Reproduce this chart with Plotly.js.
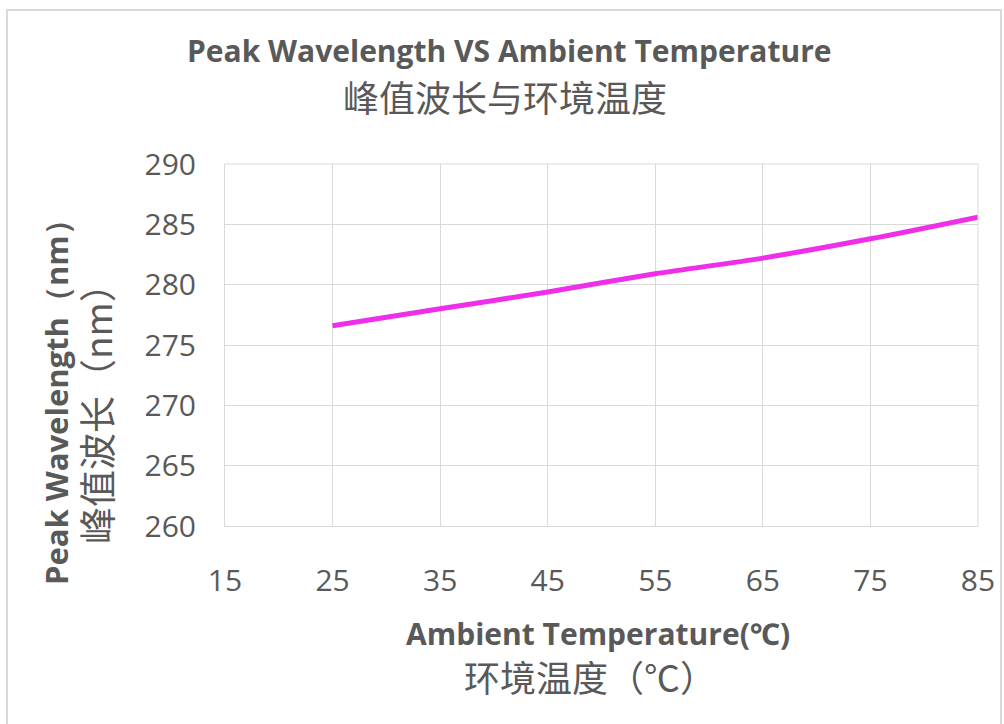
<!DOCTYPE html>
<html>
<head>
<meta charset="utf-8">
<script src="https://cdn.plot.ly/plotly-3.0.1.min.js"></script>
<style>html,body{margin:0;padding:0;background:#fff;}#chart{width:1004px;height:724px;}</style>
</head>
<body>
<div id="chart"></div>
<script>
const temperatures = [25, 35, 45, 55, 65, 75, 85];
const peakWavelength = [276.6, 278.0, 279.4, 280.9, 282.2, 283.8, 285.6];
const xTicks = [15, 25, 35, 45, 55, 65, 75, 85];
const yTicks = [260, 265, 270, 275, 280, 285, 290];

const titleEn = 'Peak Wavelength VS Ambient Temperature';
const titleZh = '峰值波长与环境温度';
const xTitleEn = 'Ambient Temperature(℃)';
const xTitleZh = '环境温度（℃）';
const yTitleEn = 'Peak Wavelength（nm）';
const yTitleZh = '峰值波长（nm）';

const grey = '#595959';
const fontEn = '"Open Sans", "Noto Sans", sans-serif';
const fontZh = '"Noto Sans CJK SC", sans-serif';
const fontTick = '"Liberation Sans Narrow", "Open Sans", sans-serif';

const trace = {
  x: temperatures,
  y: peakWavelength,
  type: 'scatter',
  mode: 'lines',
  line: {color: '#ee2ee8', width: 5, shape: 'spline', smoothing: 0.8},
  hoverinfo: 'x+y'
};

const W = 753, H = 362;
const layout = {
  width: 1004, height: 724,
  margin: {l: 225, r: 26, t: 164, b: 198},
  paper_bgcolor: '#ffffff',
  plot_bgcolor: '#ffffff',
  showlegend: false,
  xaxis: {
    range: [15, 85],
    tickvals: xTicks,
    ticktext: xTicks.map(String),
    showgrid: true, gridcolor: '#d9d9d9', gridwidth: 1,
    zeroline: false,
    showline: true, linecolor: '#d9d9d9', linewidth: 1,
    ticks: 'outside', ticklen: 28, tickcolor: 'rgba(0,0,0,0)',
    tickfont: {family: fontTick, size: 30, color: grey},
    fixedrange: true
  },
  yaxis: {
    range: [260, 290],
    tickvals: yTicks,
    ticktext: yTicks.map(String),
    showgrid: true, gridcolor: '#d9d9d9', gridwidth: 1,
    zeroline: false,
    showline: true, linecolor: '#d9d9d9', linewidth: 1,
    ticks: 'outside', ticklen: 22, tickcolor: 'rgba(0,0,0,0)',
    tickfont: {family: fontTick, size: 30, color: grey},
    fixedrange: true
  },
  shapes: [
    {type: 'line', xref: 'paper', yref: 'paper', x0: 1, x1: 1, y0: 0, y1: 1, line: {color: '#d9d9d9', width: 1}},
    {type: 'line', xref: 'paper', yref: 'paper', x0: 0, x1: 1, y0: 1, y1: 1, line: {color: '#d9d9d9', width: 1}},
    {type: 'rect', xref: 'paper', yref: 'paper',
     x0: (7 - 225) / W, x1: (1001 - 225) / W,
     y0: (526 - 740) / H, y1: (526 - 10) / H,
     line: {color: '#d9d9d9', width: 2}, fillcolor: 'rgba(0,0,0,0)'}
  ],
  annotations: [
    {text: '<b>' + titleEn + '</b>', xref: 'paper', yref: 'paper',
     x: (509 - 225) / W, y: (526 - 50) / H, xanchor: 'center', yanchor: 'middle', showarrow: false,
     font: {family: fontEn, size: 30, color: grey}},
    {text: titleZh, xref: 'paper', yref: 'paper',
     x: (505 - 225) / W, y: (526 - 96) / H, xanchor: 'center', yanchor: 'middle', showarrow: false,
     font: {family: fontZh, size: 36, color: grey}},
    {text: '<b>' + xTitleEn + '</b>', xref: 'paper', yref: 'paper',
     x: (598 - 225) / W, y: (526 - 633) / H, xanchor: 'center', yanchor: 'middle', showarrow: false,
     font: {family: fontEn, size: 30, color: grey}},
    {text: xTitleZh, xref: 'paper', yref: 'paper',
     x: (590 - 225) / W, y: (526 - 676) / H, xanchor: 'center', yanchor: 'middle', showarrow: false,
     font: {family: fontZh, size: 36, color: grey}},
    {text: '<b>' + yTitleEn + '</b>', xref: 'paper', yref: 'paper', textangle: -90,
     x: (56 - 225) / W, y: (526 - 395) / H, xanchor: 'center', yanchor: 'middle', showarrow: false,
     font: {family: fontEn, size: 31, color: grey}},
    {text: yTitleZh, xref: 'paper', yref: 'paper', textangle: -90,
     x: (96 - 225) / W, y: (526 - 405) / H, xanchor: 'center', yanchor: 'middle', showarrow: false,
     font: {family: fontZh, size: 37, color: grey}}
  ]
};

Plotly.newPlot('chart', [trace], layout, {displayModeBar: false, staticPlot: true});
</script>
</body>
</html>
